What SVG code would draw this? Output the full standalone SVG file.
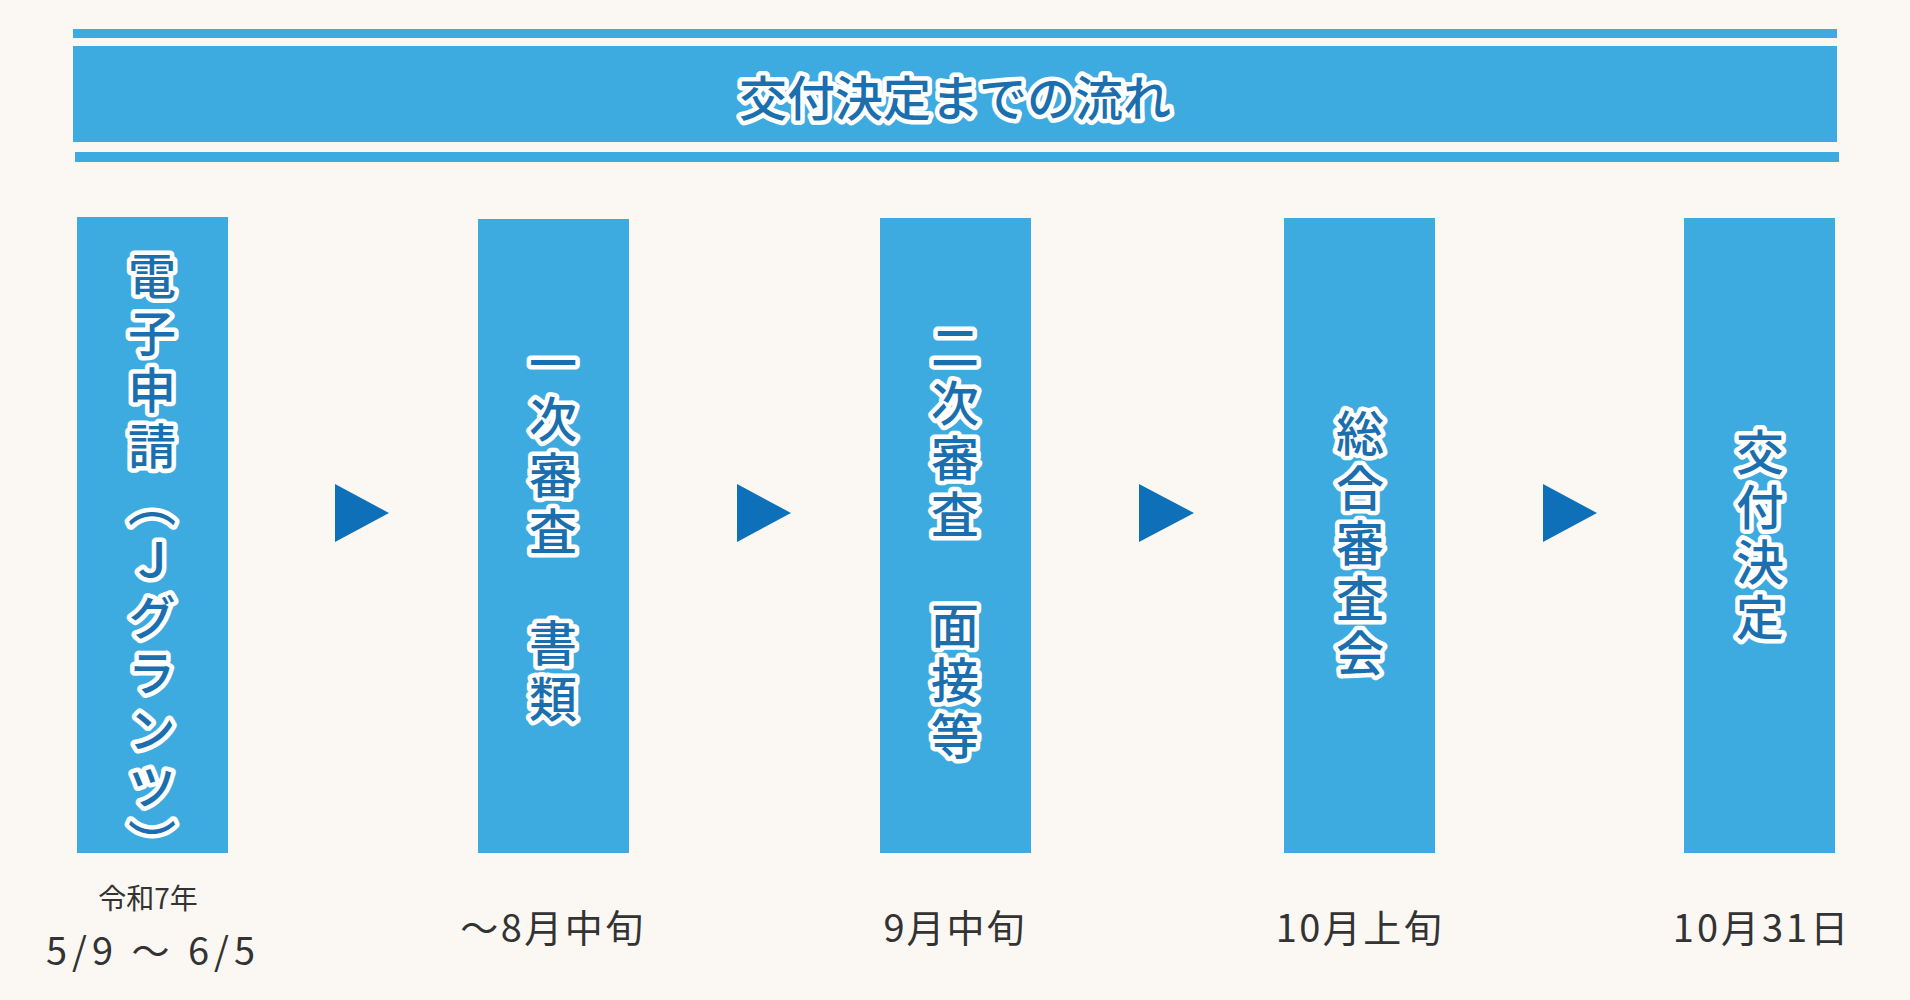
<svg xmlns="http://www.w3.org/2000/svg" width="1910" height="1000" viewBox="0 0 1910 1000">
<style>
.bar{fill:#3eabe0}
.box{fill:#3eabe0}
.arrow{fill:#0d70b8}
.ttl{font-family:"Noto Sans CJK JP","Noto Sans",sans-serif;font-weight:500;fill:#1b6fae;stroke:#ffffff;stroke-width:9;stroke-linejoin:round;paint-order:stroke fill}
.vt{font-family:"Noto Sans CJK JP","Noto Sans",sans-serif;font-weight:500;font-size:48px;fill:#1b6fae;stroke:#ffffff;stroke-width:9;stroke-linejoin:round;paint-order:stroke fill;writing-mode:vertical-rl;text-anchor:middle}
.date{font-family:"Noto Sans CJK JP","Liberation Sans",sans-serif;fill:#333333;text-anchor:middle;dominant-baseline:central}
</style>
<rect width="1910" height="1000" fill="#fbf8f4"/>
<g id="header">
<rect class="bar" x="73" y="29" width="1764" height="9"/>
<rect class="bar" x="73" y="46" width="1764" height="96"/>
<rect class="bar" x="75" y="152" width="1764" height="10"/>
<text class="ttl" x="955" y="95" font-size="48" text-anchor="middle" dominant-baseline="central">交付決定までの流れ</text>
</g>
<g id="node1">
<rect class="box" x="77" y="217" width="151" height="636"/>
<text class="vt" x="152" y="564" letter-spacing="8.7">電子申請（Ｊグランツ）</text>
</g>
<g id="node2">
<rect class="box" x="478" y="219" width="151" height="634"/>
<text class="vt" x="553" y="535" letter-spacing="8">一次審査　書類</text>
</g>
<g id="node3">
<rect class="box" x="880" y="218" width="151" height="635"/>
<text class="vt" x="955" y="545" letter-spacing="7.5">二次審査　面接等</text>
</g>
<g id="node4">
<rect class="box" x="1284" y="218" width="151" height="635"/>
<text class="vt" x="1360" y="546" letter-spacing="7">総合審査会</text>
</g>
<g id="node5">
<rect class="box" x="1684" y="218" width="151" height="635"/>
<text class="vt" x="1760" y="538" letter-spacing="7">交付決定</text>
</g>
<g id="connectors">
<polygon class="arrow" points="335,484 389,513 335,542"/>
<polygon class="arrow" points="737,484 791,513 737,542"/>
<polygon class="arrow" points="1139,484 1194,513 1139,542"/>
<polygon class="arrow" points="1543,484 1597,513 1543,542"/>
</g>
<g id="dates">
<text class="date" x="148" y="897" font-size="28">令和7年</text>
<text class="date" x="153" y="948" font-size="38" letter-spacing="5">5/9 〜 6/5</text>
<text class="date" x="553" y="925" font-size="38" letter-spacing="2.5">〜8月中旬</text>
<text class="date" x="955" y="925" font-size="38" letter-spacing="2">9月中旬</text>
<text class="date" x="1360" y="925" font-size="38" letter-spacing="2.5">10月上旬</text>
<text class="date" x="1762" y="925" font-size="38" letter-spacing="3">10月31日</text>
</g>
</svg>
